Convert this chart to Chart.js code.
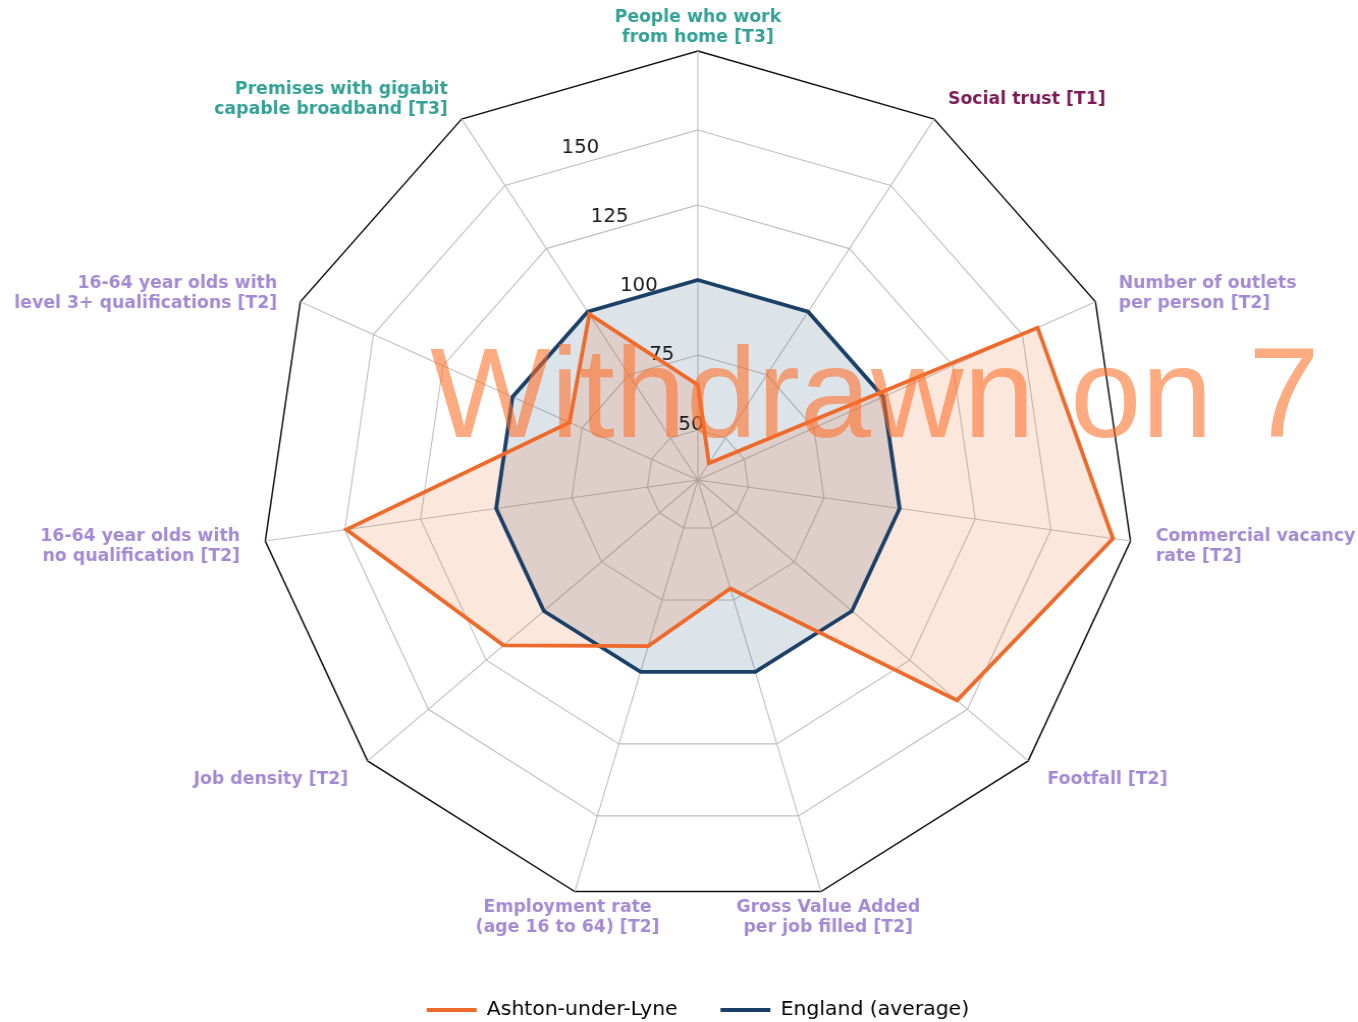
<!DOCTYPE html>
<html>
<head>
<meta charset="utf-8">
<title>Ashton-under-Lyne compared with England</title>
<script src="https://cdn.jsdelivr.net/npm/chart.js@4.4.1/dist/chart.umd.min.js"></script>
<style>
  html, body { margin: 0; padding: 0; background: #fff; overflow: hidden; }
  #wrap { position: relative; width: 1358px; height: 1022px; overflow: hidden; }
  /* the source picture is stretched slightly wider than tall */
  #radar { position: absolute; left: 0; top: 0; transform: scaleX(1.0188); transform-origin: 0 0; }
  #stamp {
    position: absolute; left: 430px; top: 329px;
    font: 128px/128px "Liberation Sans", Arial, sans-serif;
    color: rgba(255, 110, 40, 0.58);
    white-space: nowrap; pointer-events: none;
  }
</style>
</head>
<body>
<div id="wrap">
  <canvas id="radar" width="1333" height="1030"></canvas>
  <div id="stamp">Withdrawn on 7</div>
</div>
<script>
const categories = [
  ["People who work", "from home [T3]"],
  ["Social trust [T1]"],
  ["Number of outlets", "per person [T2]"],
  ["Commercial vacancy", "rate [T2]"],
  ["Footfall [T2]"],
  ["Gross Value Added", "per job filled [T2]"],
  ["Employment rate", "(age 16 to 64) [T2]"],
  ["Job density [T2]"],
  ["16-64 year olds with", "no qualification [T2]"],
  ["16-64 year olds with", "level 3+ qualifications [T2]"],
  ["Premises with gigabit", "capable broadband [T3]"],
];
const ashtonValues = [65, 40, 155.5, 170.5, 145.5, 71, 91, 117.5, 149.5, 79.5, 99];
const englandValues = [100, 100, 100, 100, 100, 100, 100, 100, 100, 100, 100];
const tickValues = [50, 75, 100, 125, 150];
const R_MIN = 100 / 3;
const R_MAX = 176.3;

const tierColours = { T1: "#7b1c57", T2: "#a48ad4", T3: "#34a196" };
const tierOf = (lines) => lines.join(" ").match(/\[(T\d)\]/)[1];

// tick numbers sit on a ray 22.5 degrees left of the top spoke
const tickLabels = {
  id: "tickLabels",
  beforeDatasetsDraw(chart) {
    const scale = chart.scales.r;
    const ctx = chart.ctx;
    const a = (22.5 * Math.PI) / 180;
    ctx.save();
    ctx.font = '19.5px "DejaVu Sans"';
    ctx.fillStyle = "#1a1a1a";
    ctx.textAlign = "left";
    ctx.textBaseline = "alphabetic";
    tickValues.forEach((v) => {
      const d = scale.getDistanceFromCenterForValue(v);
      ctx.fillText(String(v), scale.xCenter - d * Math.sin(a), scale.yCenter - d * Math.cos(a) - 4);
    });
    ctx.restore();
  },
};

// axis names, coloured by tier, centred on a ring just outside the frame
const axisLabels = {
  id: "axisLabels",
  afterDraw(chart) {
    const scale = chart.scales.r;
    const ctx = chart.ctx;
    const lineHeight = 20;
    ctx.save();
    ctx.font = 'bold 17px "DejaVu Sans"';
    ctx.textBaseline = "middle";
    chart.data.labels.forEach((label, i) => {
      const lines = [].concat(label);
      const pos = scale.getPointPosition(i, scale.drawingArea + 25);
      const sin = Math.sin(scale.getIndexAngle(i));
      ctx.textAlign = Math.abs(sin) < 0.35 ? "center" : sin > 0 ? "left" : "right";
      ctx.fillStyle = tierColours[tierOf(lines)];
      const y0 = pos.y + 2 - ((lines.length - 1) * lineHeight) / 2;
      lines.forEach((line, k) => ctx.fillText(line, pos.x, y0 + k * lineHeight));
    });
    ctx.restore();
  },
};

new Chart(document.getElementById("radar"), {
  type: "radar",
  data: {
    labels: categories,
    datasets: [
      {
        label: "Ashton-under-Lyne",
        data: ashtonValues,
        borderColor: "#ee6a2a",
        backgroundColor: "rgba(239, 108, 42, 0.16)",
        borderWidth: 3.8,
        borderJoinStyle: "miter",
        pointRadius: 0,
        pointHoverRadius: 0,
        fill: true,
      },
      {
        label: "England (average)",
        data: englandValues,
        borderColor: "#1b4068",
        backgroundColor: "rgba(40, 80, 120, 0.16)",
        borderWidth: 3.8,
        borderJoinStyle: "miter",
        pointRadius: 0,
        pointHoverRadius: 0,
        fill: true,
      },
    ],
  },
  options: {
    responsive: false,
    animation: false,
    devicePixelRatio: 1,
    layout: { padding: { left: 256, right: 219, top: 2, bottom: 0 } },
    scales: {
      r: {
        min: R_MIN,
        max: R_MAX,
        afterBuildTicks: (scale) => {
          scale.ticks = [R_MIN, ...tickValues, R_MAX].map((v) => ({ value: v }));
        },
        ticks: { display: false },
        pointLabels: { display: false },
        grid: {
          color: (c) => (c.tick && c.tick.value === R_MAX ? "#111111" : "#bfbfbf"),
          lineWidth: (c) => (c.tick && c.tick.value === R_MAX ? 1.5 : 1.1),
        },
        angleLines: { color: "#bfbfbf", lineWidth: 1.1 },
      },
    },
    plugins: {
      filler: { drawTime: "beforeDatasetsDraw" },
      tooltip: { enabled: false },
      legend: {
        position: "bottom",
        labels: {
          boxWidth: 49,
          boxHeight: 4,
          padding: 42,
          color: "#1a1a1a",
          font: { family: '"DejaVu Sans"', size: 20 },
          generateLabels: (chart) =>
            chart.data.datasets.map((ds, i) => ({
              text: ds.label,
              fillStyle: ds.borderColor,
              strokeStyle: ds.borderColor,
              lineWidth: 0,
              hidden: false,
              datasetIndex: i,
            })),
        },
      },
    },
  },
  plugins: [tickLabels, axisLabels],
});
</script>
</body>
</html>
